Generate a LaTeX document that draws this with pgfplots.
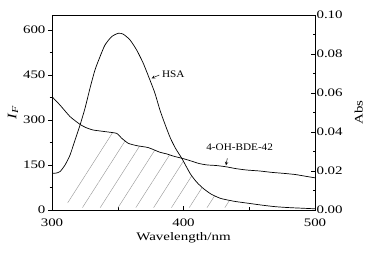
\documentclass[border=0pt]{standalone}
\usepackage{pgfplots}
\pgfplotsset{compat=1.18}
\usetikzlibrary{patterns.meta}
\usepackage{fontspec}
\setmainfont{Liberation Serif}[FakeStretch=1.3]
\newfontfamily\labfont{Liberation Serif}[FakeStretch=1.12]

\pgfplotstableread{
nm If
300 122
303 123
306.1 128
309.9 150
313.7 183
317.5 233
321.3 283
325.1 339
328.9 406
332.7 467
336.5 511
340.3 550
345.4 578
350.4 589
354.2 586
359.3 567
364.4 533
369.4 489
374.5 433
378.3 389
382.1 333
386 285
390 240
394 205
399 170
405 122
410 93
415 72
421 53
428 39
435 32
440 28
450 22
460 16
470 11
480 8
490 6
500 4
}\hsa

\pgfplotstableread{
nm Abs
300 0.0581
306.1 0.0538
313.7 0.0479
321.3 0.0439
326 0.0422
331.4 0.0410
340.3 0.0402
349.2 0.0393
353 0.0368
358 0.0342
364.4 0.0330
373.2 0.0320
382.1 0.0296
387 0.0288
393 0.0275
399 0.0265
405 0.0253
412 0.0238
418 0.0231
425 0.0228
432 0.0222
440 0.0212
448 0.0205
458 0.0200
467 0.0193
476 0.0188
485 0.0182
492 0.0174
500 0.0165
}\absdata

\begin{document}
\begin{tikzpicture}
\path[use as bounding box] (-52pt,-43pt) rectangle (314pt,210pt);
\begin{axis}[
  scale only axis, width=263pt, height=195pt,
  at={(0pt,0pt)}, anchor=south west,
  xmin=300, xmax=500, ymin=0, ymax=650,
  xtick={300,400,500}, ytick={0,150,300,450,600},
  minor tick num=1,
  xtick pos=bottom, ytick pos=left,
  tick align=inside,
  major tick length=4pt, minor tick length=2.5pt,
  major y tick style={xshift=-4pt}, minor y tick style={xshift=-2.5pt},
  tick style={black, line width=0.5pt},
  axis line style={line width=0.6pt},
  yticklabel style={xshift=-3pt},
  xticklabel style={yshift=-5pt},
  tick label style={font=\fontsize{11.5}{13}\selectfont},
  label style={font=\fontsize{11.5}{13}\selectfont},
  /pgf/number format/assume math mode=true,
  xlabel={Wavelength/nm},
  xlabel style={yshift=1pt},
  ylabel={\fontsize{13}{14}\selectfont\textit{I}\textsubscript{\textit{F}}},
  ylabel style={yshift=-2pt},
]
\addplot[draw=none, pattern={Lines[angle=57.4, distance=15pt, line width=0.4pt]}, pattern color=gray!85]
 coordinates {(304.6,43) (334,266) (340.3,261) (349.2,255) (353,239) (358,222) (364.4,214) (373.2,208) (382.1,192) (387,187) (393,179) (399,172) (405,122) (410,93) (415,72) (421,53) (428,39) (435,32) (440,28) (445,25) (445,8) (318,8)} -- cycle;
\addplot[black, line width=0.7pt, smooth, tension=0.4] table[x=nm, y=If] {\hsa};
\node[font=\labfont\fontsize{10}{11}\selectfont] at (axis cs:392.2,451) {HSA};
\draw[-stealth, line width=0.5pt] (axis cs:381.6,450) -- (axis cs:375.8,439);
\node[font=\labfont\fontsize{10}{11}\selectfont] at (axis cs:442.7,209) {4-OH-BDE-42};
\draw[-stealth, line width=0.5pt] (axis cs:433.3,172) -- (axis cs:432.3,149);
\end{axis}
\begin{axis}[
  scale only axis, width=263pt, height=195pt,
  at={(0pt,0pt)}, anchor=south west,
  xmin=300, xmax=500, ymin=0, ymax=0.1,
  axis x line=none, axis y line*=right,
  ytick={0,0.02,0.04,0.06,0.08,0.1},
  minor y tick num=1,
  tick align=inside,
  major tick length=4pt, minor tick length=2.5pt,
  tick style={black, line width=0.5pt},
  axis line style={line width=0.6pt},
  yticklabel style={xshift=-2pt, /pgf/number format/fixed, /pgf/number format/fixed zerofill, /pgf/number format/precision=2},
  tick label style={font=\fontsize{11.5}{13}\selectfont},
  label style={font=\fontsize{11.5}{13}\selectfont},
  /pgf/number format/assume math mode=true,
  ylabel={Abs},
  ylabel style={yshift=-5pt},
  scaled y ticks=false,
]
\addplot[black, line width=0.7pt, smooth, tension=0.3] table[x=nm, y=Abs] {\absdata};
\end{axis}
\end{tikzpicture}
\end{document}
